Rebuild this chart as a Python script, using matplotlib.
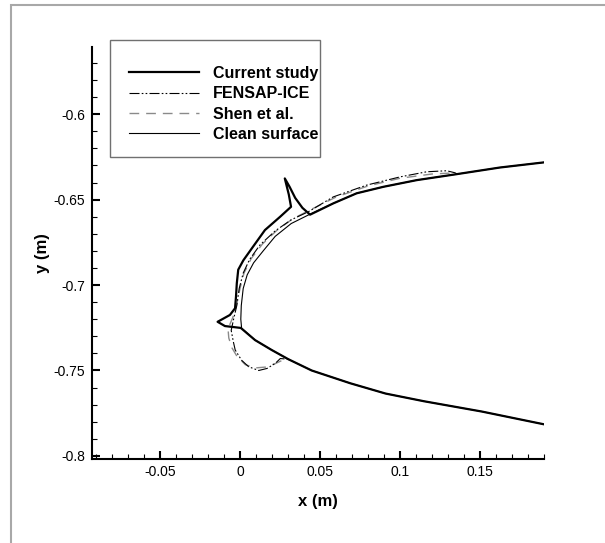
import matplotlib
matplotlib.use('Agg')
import matplotlib.pyplot as plt
from matplotlib.patches import Rectangle
from matplotlib.ticker import MultipleLocator, FuncFormatter

plt.rcParams['font.family'] = ['Liberation Sans', 'DejaVu Sans']

# clean airfoil, upper TE -> leading edge -> lower TE
clean_x = [0.19, 0.1625, 0.1354, 0.1104, 0.0896, 0.0729, 0.0583, 0.0438, 0.032, 0.022, 0.0145,
           0.0085, 0.0045, 0.002, 0.0008, 0.0005, 0.001, 0.0094, 0.0198, 0.0302, 0.0448, 0.069,
           0.091, 0.115, 0.151, 0.19]
clean_y = [-0.6282, -0.6312, -0.6351, -0.6386, -0.6425, -0.6463, -0.6522, -0.6585, -0.6640, -0.6715,
           -0.6800, -0.6870, -0.6940, -0.7020, -0.7120, -0.7200, -0.7252, -0.7322, -0.7380, -0.7434,
           -0.7500, -0.7575, -0.7635, -0.7680, -0.7740, -0.7815]

# current study ice shape
cur_x = [0.19, 0.1625, 0.1354, 0.1104, 0.0896, 0.0729, 0.0583, 0.0438, 0.0390, 0.0345, 0.0310,
         0.0280, 0.0305, 0.0319, 0.0250, 0.0156, 0.0078, 0.0021, -0.0011, -0.0020, -0.0025,
         -0.0031, -0.0063, -0.0140, -0.0094, -0.0030, 0.0005, 0.0094, 0.0198, 0.0302, 0.0448,
         0.069, 0.091, 0.115, 0.151, 0.19]
cur_y = [-0.6282, -0.6312, -0.6351, -0.6386, -0.6425, -0.6463, -0.6522, -0.6588, -0.6548, -0.6490,
         -0.6425, -0.6376, -0.6470, -0.6542, -0.6601, -0.6678, -0.6780, -0.6855, -0.6910, -0.6990,
         -0.7068, -0.7136, -0.7175, -0.7215, -0.7240, -0.7247, -0.7251, -0.7322, -0.7380, -0.7434,
         -0.7500, -0.7575, -0.7635, -0.7680, -0.7740, -0.7815]

# FENSAP-ICE
fen_x = [0.136, 0.1344, 0.1292, 0.1167, 0.10, 0.0792, 0.0583, 0.0427, 0.032, 0.022, 0.0125, 0.006,
         0.002, -0.0005, -0.002, -0.004, -0.0055, -0.0042, -0.0030, 0.0010, 0.0054, 0.0117, 0.0169,
         0.0221, 0.0252, 0.030]
fen_y = [-0.6352, -0.6343, -0.6331, -0.6337, -0.6367, -0.6415, -0.6484, -0.6571, -0.6618, -0.6683,
         -0.6765, -0.6850, -0.6930, -0.7020, -0.7120, -0.7200, -0.7265, -0.7330, -0.7380, -0.7440,
         -0.7478, -0.7500, -0.7488, -0.7458, -0.7430, -0.7434]

# Shen et al.
shen_x = [0.131, 0.12, 0.10, 0.08, 0.06, 0.045, 0.033, 0.023, 0.014, 0.007, 0.0025, 0.0, -0.002,
          -0.0045, -0.0075, -0.0070, -0.0050, -0.0019, 0.0033, 0.0096, 0.0160, 0.0220, 0.0270, 0.031]
shen_y = [-0.6345, -0.6350, -0.6375, -0.6420, -0.6485, -0.6555, -0.6612, -0.6680, -0.6760, -0.6845,
          -0.6930, -0.7020, -0.7110, -0.7190, -0.7255, -0.7310, -0.7368, -0.7417, -0.7466, -0.7485,
          -0.7480, -0.7460, -0.7438, -0.7436]

W, H = 605, 543
fig = plt.figure(figsize=(W / 100, H / 100), dpi=100)
ax = fig.add_axes([92 / W, 1 - 459 / H, (544 - 92) / W, (459 - 46.7) / H])

ax.plot(clean_x, clean_y, color='black', lw=0.8, label='Clean surface', zorder=2)
ax.plot(shen_x, shen_y, color='#8a8a8a', lw=1.0, ls=(0, (7, 5)), label='Shen et al.', zorder=3)
ax.plot(fen_x, fen_y, color='black', lw=0.8, ls=(0, (9, 2, 1.5, 2, 1.5, 2)), label='FENSAP-ICE', zorder=4)
ax.plot(cur_x, cur_y, color='black', lw=1.6, label='Current study', zorder=5)

ax.set_xlim(-0.0925, 0.19)
ax.set_ylim(-0.8018, -0.5605)

for s in ['top', 'right']:
    ax.spines[s].set_visible(False)
for s in ['left', 'bottom']:
    ax.spines[s].set_linewidth(1.5)

ax.xaxis.set_major_locator(MultipleLocator(0.05))
ax.xaxis.set_minor_locator(MultipleLocator(0.01))
ax.yaxis.set_major_locator(MultipleLocator(0.05))
ax.yaxis.set_minor_locator(MultipleLocator(0.01))
fmt = FuncFormatter(lambda v, p: '%g' % round(v, 4))
ax.xaxis.set_major_formatter(fmt)
ax.yaxis.set_major_formatter(fmt)
ax.tick_params(which='major', direction='in', length=6, width=1.5, labelsize=10, pad=5)
ax.tick_params(which='minor', direction='in', length=3.5, width=0.8)
ax.tick_params(axis='x', pad=4)

ax.set_xlabel('x (m)', fontsize=12, fontweight='bold', labelpad=11)
ax.set_ylabel('y (m)', fontsize=12, fontweight='bold', labelpad=2.5)

# legend, frame drawn by hand
h, l = ax.get_legend_handles_labels()
order = [3, 2, 1, 0]
leg = fig.legend([h[i] for i in order], [l[i] for i in order], loc='upper left',
                 bbox_to_anchor=(121 / W, 1 - 58 / H), frameon=False, borderpad=0,
                 handlelength=4.4, handletextpad=0.85, labelspacing=0.33,
                 prop={'weight': 'bold', 'size': 11.5})
fig.add_artist(Rectangle((110 / W, 1 - 157 / H), 210 / W, 117 / H, transform=fig.transFigure,
                         fill=False, ec='#707070', lw=1.0))

# outer gray frame
fig.add_artist(Rectangle((11 / W, -0.1), 1.2, 1.1 - 5 / H, transform=fig.transFigure,
                         fill=False, ec='#a8a8a8', lw=1.5))

fig.savefig('out.png', dpi=100)
